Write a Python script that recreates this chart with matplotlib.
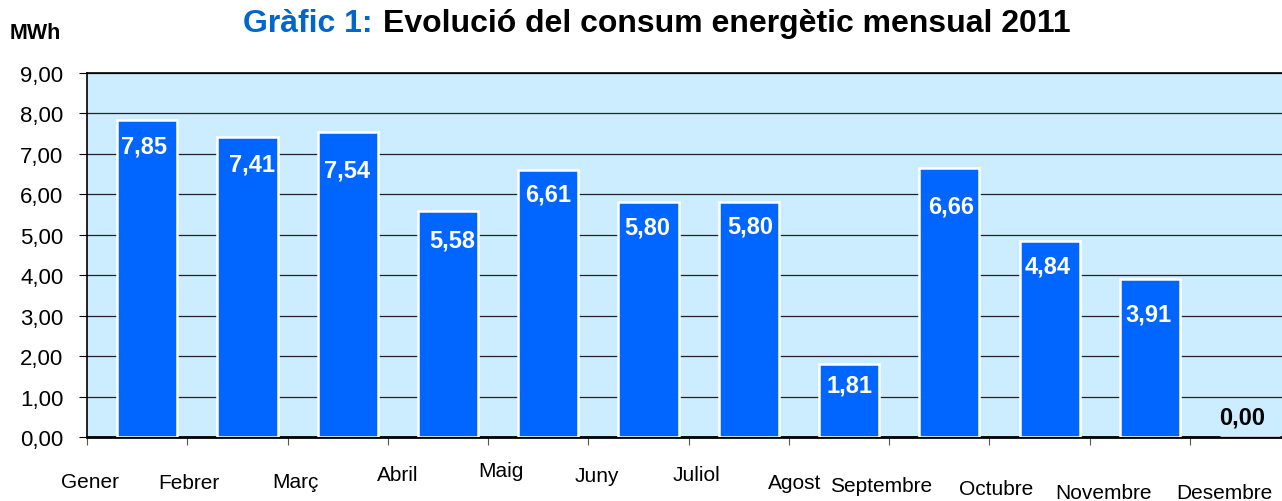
import matplotlib
matplotlib.use("Agg")
from matplotlib import pyplot as plt

plt.rcParams['font.family'] = ['Liberation Sans', 'DejaVu Sans']

# monthly consumption 2011 (MWh)
months = ['Gener', 'Febrer', 'Març', 'Abril', 'Maig', 'Juny', 'Juliol',
          'Agost', 'Septembre', 'Octubre', 'Novembre', 'Desembre']
consum = [7.85, 7.41, 7.54, 5.58, 6.61, 5.80, 5.80, 1.81, 6.66, 4.84, 3.91, 0.00]
yticks = [0, 1, 2, 3, 4, 5, 6, 7, 8, 9]

# label placement tweaks (points): month labels (dx, dy below axis), value labels (dx, dy from bar top)
month_off = [(2, -32), (1, -33), (6, -32), (7, -27), (9, -24), (6, -28),
             (6, -27), (4, -33), (-6, -35), (5, -37), (10, -40), (25, -40)]
value_off = [(-2.2, -19.1), (3.2, -19.2), (-0.7, -27.6), (2.9, -20.7),
             (0, -17.6), (-0.7, -18), (0.7, -17.3), (0, -15.6),
             (1.4, -27.4), (-1.1, -17.6), (-1.1, -25.2), (-5.8, 14.4)]


def fmt(v):
    return f"{v:.2f}".replace('.', ',')


fig = plt.figure(figsize=(12.82, 5.02), dpi=100)
ax = fig.add_axes([87 / 1282, 64 / 502, 1203.3 / 1282, 364 / 502])
ax.set_facecolor('#CCECFF')

x = list(range(len(months)))
ax.bar([i + 0.6 for i in x], consum, width=0.6, color='#0066FF',
       edgecolor='white', linewidth=1.8, zorder=3)

ax.set_xlim(0, 12)
ax.set_ylim(0, 9)
ax.set_yticks(yticks)
ax.set_yticklabels([fmt(v) for v in yticks], fontsize=16)
ax.set_xticks(x)
ax.set_xticklabels([])
ax.tick_params(axis='x', length=6, color='#555555')
ax.tick_params(axis='y', length=6, color='black', pad=11)
ax.yaxis.grid(True, color='#222222', linewidth=0.9)
ax.set_axisbelow(True)
for side in ['left', 'top', 'bottom']:
    ax.spines[side].set_color('black')
    ax.spines[side].set_linewidth(1.2)
ax.spines['bottom'].set_linewidth(2)

for i, name in enumerate(months):
    ax.annotate(name, (i, 0), xycoords=('data', 'axes fraction'),
                xytext=month_off[i], textcoords='offset points',
                ha='center', va='center', fontsize=15, annotation_clip=False)

for i, v in enumerate(consum):
    col = 'white' if v > 0 else 'black'
    ax.annotate(fmt(v), (i + 0.6, v), xytext=value_off[i], textcoords='offset points',
                ha='center', va='center', fontsize=17, fontweight='bold',
                color=col, zorder=5)

fig.text(243 / 1282, 1 - 32 / 502, 'Gràfic 1:', color='#0066CC', fontsize=23,
         fontweight='bold', ha='left', va='baseline')
fig.text(383 / 1282, 1 - 32 / 502, 'Evolució del consum energètic mensual 2011',
         color='black', fontsize=23, fontweight='bold', ha='left', va='baseline')
fig.text(10 / 1282, 1 - 39 / 502, 'MWh', fontsize=15.5, fontweight='bold',
         ha='left', va='baseline')

plt.savefig('out.png', dpi=100)
